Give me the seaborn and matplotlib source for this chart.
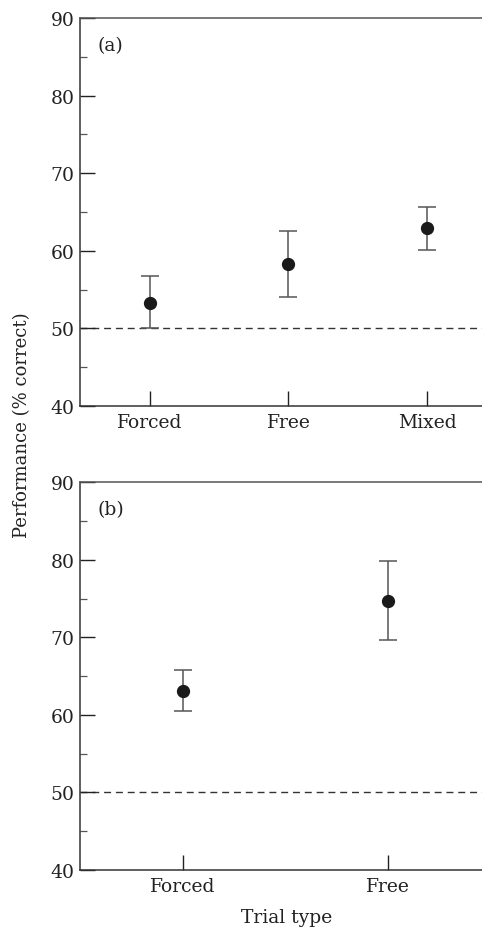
import matplotlib
matplotlib.use("Agg")
import matplotlib.pyplot as plt
import numpy as np
import pandas as pd
import seaborn as sns
from matplotlib.ticker import MultipleLocator

# panel (a)
trials_a = ["Forced", "Free", "Mixed"]
mean_a = [53.3, 58.3, 62.9]
low_a = [50.0, 54.0, 60.1]
high_a = [56.8, 62.6, 65.7]

# panel (b)
trials_b = ["Forced", "Free"]
mean_b = [63.1, 74.7]
low_b = [60.5, 69.6]
high_b = [65.8, 79.9]

CHANCE = 50
YTICKS = [40, 50, 60, 70, 80, 90]

sns.set_theme(style="ticks")
plt.rcParams['font.family'] = ['DejaVu Serif']
plt.rcParams['axes.edgecolor'] = '#333333'

fig = plt.figure(figsize=(4.82, 9.28), dpi=100)
ax1 = fig.add_axes([0.166, 0.5614, 0.865, 0.418])
ax2 = fig.add_axes([0.166, 0.0617, 0.853, 0.4175])


def draw_panel(ax, trials, mean, low, high, tag):
    df = pd.DataFrame({"trial": trials, "perf": mean})
    sns.pointplot(data=df, x="trial", y="perf", ax=ax, linestyle="none", errorbar=None,
                  color="#1a1a1a", markers="o", markersize=7.5)
    pos = np.arange(len(trials))
    yerr = [np.array(mean) - np.array(low), np.array(high) - np.array(mean)]
    ax.errorbar(pos, mean, yerr=yerr, fmt="none", ecolor="#555555", elinewidth=1.1,
                capsize=6.5, capthick=1.1, zorder=1)
    ax.axhline(CHANCE, color="#333333", linestyle=(0, (5, 3.5)), linewidth=1.0, zorder=0)
    ax.set_xlim(-0.5, len(trials) - 0.5)
    ax.set_ylim(40, 90)
    ax.set_yticks(YTICKS)
    ax.yaxis.set_minor_locator(MultipleLocator(5))
    ax.set_xlabel("")
    ax.set_ylabel("")
    ax.tick_params(axis="y", which="major", direction="in", length=11, width=1.0,
                   labelsize=13.5, pad=4, colors="#222222")
    ax.tick_params(axis="y", which="minor", direction="in", length=5, width=0.9, color="#555555")
    ax.tick_params(axis="x", which="major", direction="in", length=11, width=1.0,
                   labelsize=13.5, pad=5, colors="#222222")
    ax.spines["right"].set_visible(False)
    for s in ["left", "bottom", "top"]:
        ax.spines[s].set_linewidth(1.1)
    ax.spines["top"].set_color("#555555")
    ax.text(0.043, 0.93, tag, transform=ax.transAxes, fontsize=13.5, ha="left", va="center",
            color="#222222")


draw_panel(ax1, trials_a, mean_a, low_a, high_a, "(a)")
draw_panel(ax2, trials_b, mean_b, low_b, high_b, "(b)")

fig.text(22 / 482, 1 - 425 / 928, "Performance (% correct)", rotation=90, ha="center",
         va="center", fontsize=13, color="#222222")
fig.text(287 / 482, 1 - 918 / 928, "Trial type", ha="center", va="center", fontsize=13.5,
         color="#222222")

fig.savefig("out.png", dpi=100)
